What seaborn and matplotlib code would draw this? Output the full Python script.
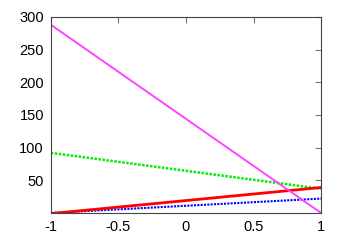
import matplotlib
matplotlib.use('Agg')
import matplotlib.pyplot as plt
import numpy as np
import pandas as pd
import seaborn as sns

# data
x = [-1, 1]
red = [-1, 39]
blue = [0, 22]
green = [92, 37]
magenta = [288, 0]

series = {'red': red, 'blue': blue, 'green': green, 'magenta': magenta}
colors = {'red': '#ff0000', 'blue': '#0000ff', 'green': '#00ee00', 'magenta': '#ff44ff'}
styles = {'red': '-', 'blue': (0, (1, 0.6)), 'green': (0, (1, 0.6)), 'magenta': '-'}
widths = {'red': 2.0, 'blue': 1.5, 'green': 1.8, 'magenta': 1.4}

rows = []
for name, vals in series.items():
    for xi, yi in zip(x, vals):
        rows.append({'x': xi, 'y': yi, 'name': name})
df = pd.DataFrame(rows)

sns.set_style('white')
plt.rcParams['font.family'] = ['Liberation Sans', 'DejaVu Sans']

fig = plt.figure(figsize=(3.46, 2.42), dpi=100)
ax = fig.add_axes([0.147, 0.12, 0.781, 0.81])

for name in ['blue', 'green', 'red', 'magenta']:
    sns.lineplot(data=df[df['name'] == name], x='x', y='y', ax=ax,
                 color=colors[name], linestyle=styles[name], linewidth=widths[name])

ax.set_xlim(-1, 1)
ax.set_ylim(0, 300)
ax.set_xticks([-1, -0.5, 0, 0.5, 1])
ax.set_xticklabels(['-1', '-0.5', '0', '0.5', '1'])
ax.set_yticks([50, 100, 150, 200, 250, 300])
ax.set_xlabel('')
ax.set_ylabel('')
ax.tick_params(direction='in', length=4, width=0.8, colors='#777777', labelcolor='black',
               labelsize=10.5, top=True, right=True, pad=5)
for s in ax.spines.values():
    s.set_color('#444444')
    s.set_linewidth(0.8)
ax.grid(False)

fig.savefig('out.png', dpi=100)
